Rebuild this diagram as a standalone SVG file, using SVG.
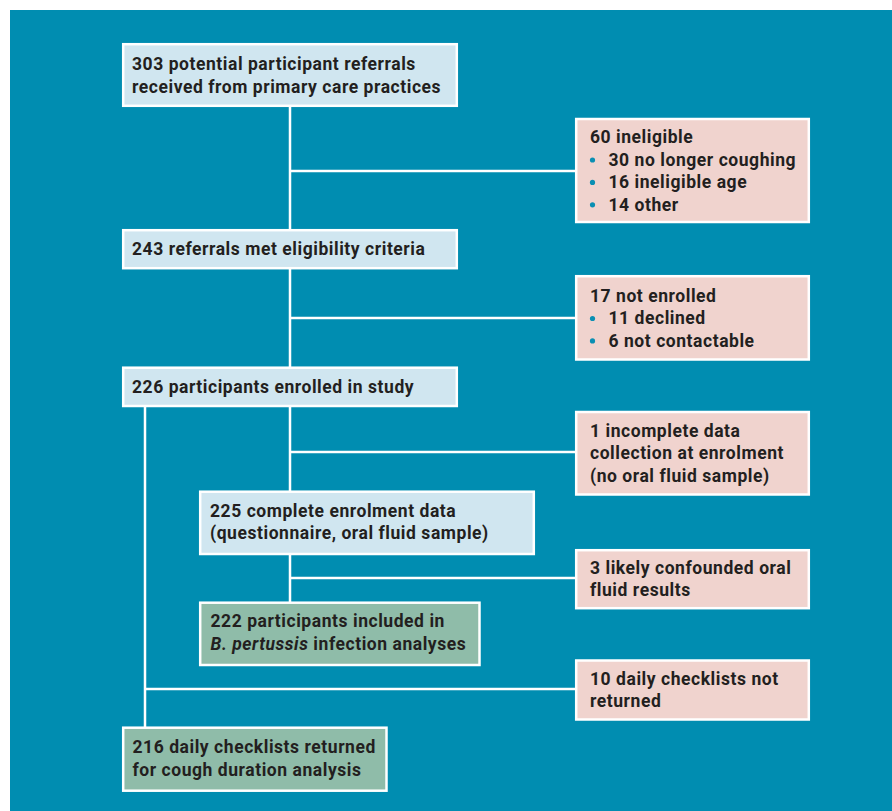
<svg xmlns="http://www.w3.org/2000/svg" width="892" height="811" viewBox="0 0 892 811">
<style>
.bg{fill:#008db1}
.box{stroke:#ffffff;stroke-width:2.5}
.blue{fill:#d0e6f0}
.pink{fill:#f0d3ce}
.green{fill:#8fbca9}
.t{font-family:Roboto,"Liberation Sans",sans-serif;font-weight:bold;font-size:17.5px;letter-spacing:0.55px;fill:#231f20}
.ln{stroke:#ffffff;stroke-width:2.5;fill:none}
.dot{fill:#0a8fb3}
</style>
<rect x="0" y="0" width="892" height="811" fill="#ffffff"/>
<rect class="bg" x="10" y="10" width="882" height="801"/>
<g id="connectors">
<path class="ln" d="M290 107V229M290 269V367M290 407V491M290 555V602"/>
<path class="ln" d="M290 171H575M290 318H575M290 452H575M290 578H575"/>
<path class="ln" d="M145 407V727M145 689H575"/>
</g>
<g id="n1">
<rect class="box blue" x="123.2" y="44.2" width="333.6" height="61.6"/>
<text class="t" x="132" y="69.5">303 potential participant referrals</text>
<text class="t" x="132" y="92.5">received from primary care practices</text>
</g>
<g id="n2">
<rect class="box blue" x="123.2" y="230.2" width="333.6" height="38"/>
<text class="t" x="132" y="255">243 referrals met eligibility criteria</text>
</g>
<g id="n3">
<rect class="box blue" x="123.2" y="367.7" width="333.6" height="38.3"/>
<text class="t" x="132" y="392.7">226 participants enrolled in study</text>
</g>
<g id="n4">
<rect class="box blue" x="200.2" y="491.7" width="333.6" height="62.3"/>
<text class="t" x="210" y="516.7">225 complete enrolment data</text>
<text class="t" x="210" y="539.3">(questionnaire, oral fluid sample)</text>
</g>
<g id="n5">
<rect class="box green" x="200.2" y="602.7" width="279.3" height="62.3"/>
<text class="t" x="210.5" y="627.3">222 participants included in</text>
<text class="t" x="210.5" y="650"><tspan font-style="italic">B. pertussis</tspan> infection analyses</text>
</g>
<g id="n6">
<rect class="box green" x="123.2" y="727.7" width="263.3" height="63"/>
<text class="t" x="132.5" y="753.3">216 daily checklists returned</text>
<text class="t" x="132.5" y="775.5">for cough duration analysis</text>
</g>
<g id="e1">
<rect class="box pink" x="576.2" y="119" width="232.6" height="103"/>
<text class="t" x="590" y="143.3">60 ineligible</text>
<circle class="dot" cx="592.5" cy="160" r="2.6"/>
<text class="t" x="608.5" y="165.8">30 no longer coughing</text>
<circle class="dot" cx="592.5" cy="182.4" r="2.6"/>
<text class="t" x="608.5" y="188.2">16 ineligible age</text>
<circle class="dot" cx="592.5" cy="204.8" r="2.6"/>
<text class="t" x="608.5" y="210.6">14 other</text>
</g>
<g id="e2">
<rect class="box pink" x="576.2" y="276.2" width="232.6" height="83.3"/>
<text class="t" x="590" y="301.7">17 not enrolled</text>
<circle class="dot" cx="592.5" cy="318.5" r="2.6"/>
<text class="t" x="608.5" y="324.3">11 declined</text>
<circle class="dot" cx="592.5" cy="340.9" r="2.6"/>
<text class="t" x="608.5" y="346.7">6 not contactable</text>
</g>
<g id="e3">
<rect class="box pink" x="576.2" y="412" width="232.6" height="82.5"/>
<text class="t" x="590" y="436.7">1 incomplete data</text>
<text class="t" x="590" y="459">collection at enrolment</text>
<text class="t" x="590" y="481.5">(no oral fluid sample)</text>
</g>
<g id="e4">
<rect class="box pink" x="576.2" y="550.2" width="232.6" height="58"/>
<text class="t" x="590" y="574.3">3 likely confounded oral</text>
<text class="t" x="590" y="595.7">fluid results</text>
</g>
<g id="e5">
<rect class="box pink" x="576.2" y="660.5" width="232.6" height="59"/>
<text class="t" x="590" y="685">10 daily checklists not</text>
<text class="t" x="590" y="706.7">returned</text>
</g>
</svg>
